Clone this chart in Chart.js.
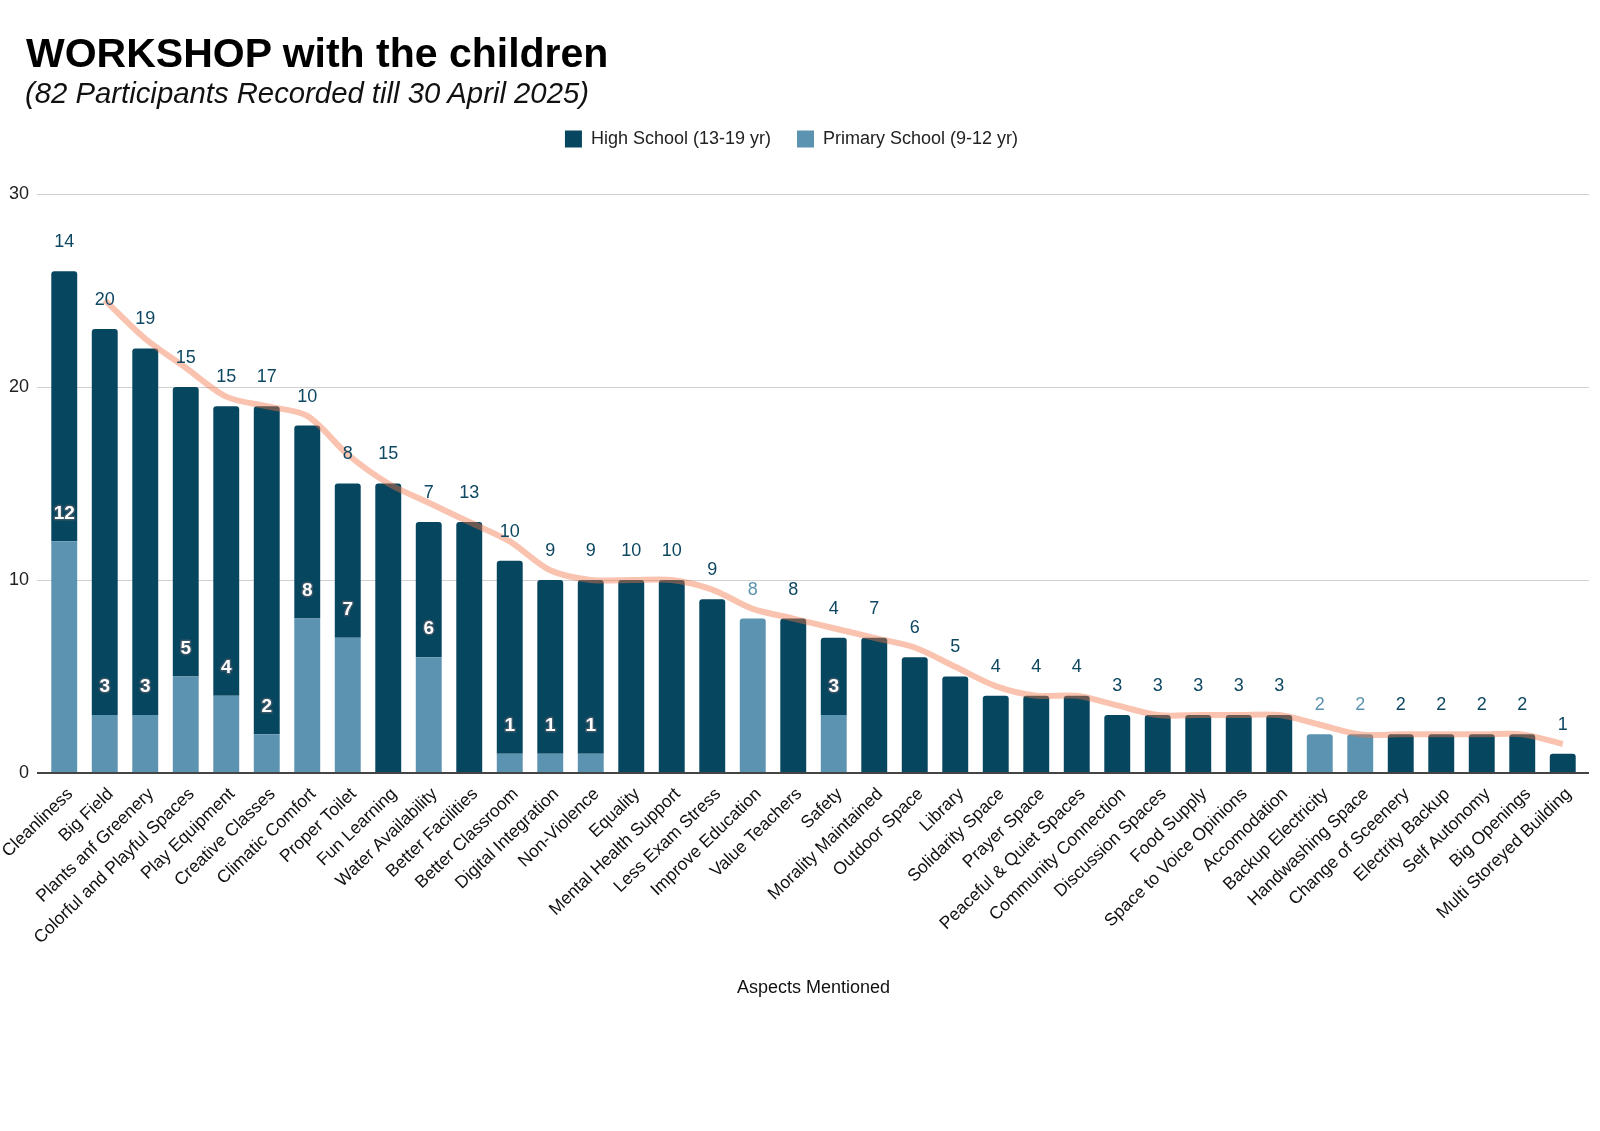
<!DOCTYPE html>
<html lang="en">

<head>
  <meta charset="UTF-8" />
  <meta name="viewport" content="width=device-width, initial-scale=1.0" />
  <title>WORKSHOP with the children</title>

  <script src="https://cdn.jsdelivr.net/npm/chart.js"></script>

  <style>
    body {
      margin: 0;
      background: #ffffff;
      font-family: "Liberation Sans", Arial, Helvetica, sans-serif;
    }

    .wrap {
      position: relative;
      width: 1600px;
      height: 1131px;
    }

    .titulo {
      position: absolute;
      left: 26px;
      top: 29px;
      margin: 0;
      font-size: 41px;
      line-height: 48px;
      font-weight: bold;
      color: #000;
    }

    .subtitulo {
      position: absolute;
      left: 25px;
      top: 76px;
      margin: 0;
      font-size: 29.3px;
      line-height: 34px;
      font-style: italic;
      color: #111;
    }
  </style>
</head>

<body>
  <div class="wrap">
    <canvas id="aspectsChart"></canvas>
    <h1 class="titulo">WORKSHOP with the children</h1>
    <p class="subtitulo">(82 Participants Recorded till 30 April 2025)</p>
  </div>

  <script>
    // data
    const categories = [
      'Cleanliness', 'Big Field', 'Plants anf Greenery', 'Colorful and Playful Spaces', 'Play Equipment',
      'Creative Classes', 'Climatic Comfort', 'Proper Toilet', 'Fun Learning', 'Water Availability',
      'Better Facilities', 'Better Classroom', 'Digital Integration', 'Non-Violence', 'Equality',
      'Mental Health Support', 'Less Exam Stress', 'Improve Education', 'Value Teachers', 'Safety',
      'Morality Maintained', 'Outdoor Space', 'Library', 'Solidarity Space', 'Prayer Space',
      'Peaceful & Quiet Spaces', 'Community Connection', 'Discussion Spaces', 'Food Supply',
      'Space to Voice Opinions', 'Accomodation', 'Backup Electricity', 'Handwashing Space',
      'Change of Sceenery', 'Electrity Backup', 'Self Autonomy', 'Big Openings', 'Multi Storeyed Building'
    ];

    const primarySchool = [12, 3, 3, 5, 4, 2, 8, 7, 0, 6, 0, 1, 1, 1, 0, 0, 0, 8, 0, 3,
      0, 0, 0, 0, 0, 0, 0, 0, 0, 0, 0, 2, 2, 0, 0, 0, 0, 0];

    const highSchool = [14, 20, 19, 15, 15, 17, 10, 8, 15, 7, 13, 10, 9, 9, 10, 10, 9, 0, 8, 4,
      7, 6, 5, 4, 4, 4, 3, 3, 3, 3, 3, 0, 0, 2, 2, 2, 2, 1];

    // trend line as drawn (moving average look)
    const trendValues = [null, 24.5, 22.5, 21, 19.5, 19, 18.5, 16.5, 15, 14, 13, 12, 10.5, 10, 10, 10, 9.5, 8.5, 8, 7.5,
      7, 6.5, 5.5, 4.5, 4, 4, 3.5, 3, 3, 3, 3, 2.5, 2, 2, 2, 2, 2, 1.5];

    const yTicks = [0, 10, 20, 30];

    const corEscura = '#06465f';
    const corClara = '#5b93b0';
    const fonte = '"Liberation Sans", Arial, Helvetica, sans-serif';

    Chart.defaults.font.family = fonte;
    Chart.defaults.color = '#222';

    // extra gap under the legend
    const legendGap = {
      id: 'legendGap',
      beforeInit(chart) {
        const fitOrig = chart.legend.fit;
        chart.legend.fit = function fit() {
          fitOrig.bind(chart.legend)();
          this.height += 36;
        };
      }
    };

    // horizontal grid lines, a bit wider than the bars area
    const gridLines = {
      id: 'gridLines',
      beforeDatasetsDraw(chart) {
        const { ctx, chartArea, scales } = chart;
        ctx.save();
        ctx.strokeStyle = '#d0d0d0';
        ctx.lineWidth = 1;
        yTicks.forEach(v => {
          if (v === 0) return;
          const py = Math.round(scales.y.getPixelForValue(v)) + 0.5;
          ctx.beginPath();
          ctx.moveTo(chartArea.left - 7, py);
          ctx.lineTo(chartArea.right + 6, py);
          ctx.stroke();
        });
        ctx.restore();
      },
      afterDatasetsDraw(chart) {
        const { ctx, chartArea, scales } = chart;
        const py = scales.y.getPixelForValue(0);
        ctx.save();
        ctx.strokeStyle = '#444';
        ctx.lineWidth = 2;
        ctx.beginPath();
        ctx.moveTo(chartArea.left - 7, py);
        ctx.lineTo(chartArea.right + 6, py);
        ctx.stroke();
        ctx.restore();
      }
    };

    // value labels above every segment
    const valueLabels = {
      id: 'valueLabels',
      afterDatasetsDraw(chart) {
        const ctx = chart.ctx;
        const metaP = chart.getDatasetMeta(0);
        const metaH = chart.getDatasetMeta(1);
        ctx.save();
        ctx.textAlign = 'center';
        ctx.textBaseline = 'middle';
        categories.forEach((c, i) => {
          const h = highSchool[i];
          const p = primarySchool[i];
          if (h > 0) {
            const bar = metaH.data[i];
            ctx.font = '18px ' + fonte;
            ctx.fillStyle = '#0e4762';
            ctx.fillText(String(h), bar.x, bar.y - 29);
          }
          if (p > 0) {
            const bar = metaP.data[i];
            if (h > 0) {
              ctx.font = 'bold 19px ' + fonte;
              ctx.lineJoin = 'round';
              ctx.lineWidth = 3;
              ctx.strokeStyle = '#3a5566';
              ctx.strokeText(String(p), bar.x, bar.y - 28);
              ctx.fillStyle = '#ffffff';
              ctx.fillText(String(p), bar.x, bar.y - 28);
            } else {
              ctx.font = '18px ' + fonte;
              ctx.fillStyle = corClara;
              ctx.fillText(String(p), bar.x, bar.y - 29);
            }
          }
        });
        ctx.restore();
      }
    };

    new Chart(document.getElementById('aspectsChart'), {
      type: 'bar',
      data: {
        labels: categories,
        datasets: [
          {
            label: 'Primary School (9-12 yr)',
            data: primarySchool,
            backgroundColor: corClara,
            borderRadius: (c) => highSchool[c.dataIndex] > 0 ? 0 : 3,
            borderSkipped: 'start',
            categoryPercentage: 1,
            barPercentage: 0.64
          },
          {
            label: 'High School (13-19 yr)',
            data: highSchool,
            backgroundColor: corEscura,
            borderRadius: 3,
            borderSkipped: 'start',
            categoryPercentage: 1,
            barPercentage: 0.64
          },
          {
            type: 'line',
            label: 'trend',
            data: trendValues,
            order: -1,
            borderColor: 'rgba(240, 115, 70, 0.43)',
            borderWidth: 6,
            pointRadius: 0,
            tension: 0.3,
            fill: false
          }
        ]
      },
      options: {
        responsive: true,
        maintainAspectRatio: false,
        animation: false,
        layout: {
          padding: { left: 0, right: 17, top: 104, bottom: 132 }
        },
        plugins: {
          title: { display: false },
          legend: {
            display: true,
            reverse: true,
            labels: {
              filter: (item) => item.text !== 'trend',
              boxWidth: 17,
              boxHeight: 17,
              padding: 26,
              color: '#222',
              font: { size: 18 }
            }
          },
          tooltip: { enabled: false }
        },
        scales: {
          x: {
            stacked: true,
            grid: { display: false },
            border: { display: false },
            afterFit(scale) {
              // rotated labels may run to the canvas edge
              scale.paddingLeft = 0;
            },
            ticks: {
              autoSkip: false,
              minRotation: 44,
              maxRotation: 44,
              labelOffset: 6,
              color: '#111',
              font: { size: 17.5 }
            },
            title: {
              display: true,
              text: 'Aspects Mentioned',
              color: '#111',
              font: { size: 18 },
              padding: { top: 26, bottom: 0 }
            }
          },
          y: {
            stacked: true,
            min: 0,
            max: 30,
            afterBuildTicks(scale) {
              scale.ticks = yTicks.map(v => ({ value: v }));
            },
            afterFit(scale) {
              scale.width = 44;
            },
            border: { display: false },
            grid: { display: false, drawTicks: false },
            ticks: {
              padding: 15,
              color: '#222',
              font: { size: 18 }
            }
          }
        }
      },
      plugins: [legendGap, gridLines, valueLabels]
    });
  </script>

</body>

</html>
